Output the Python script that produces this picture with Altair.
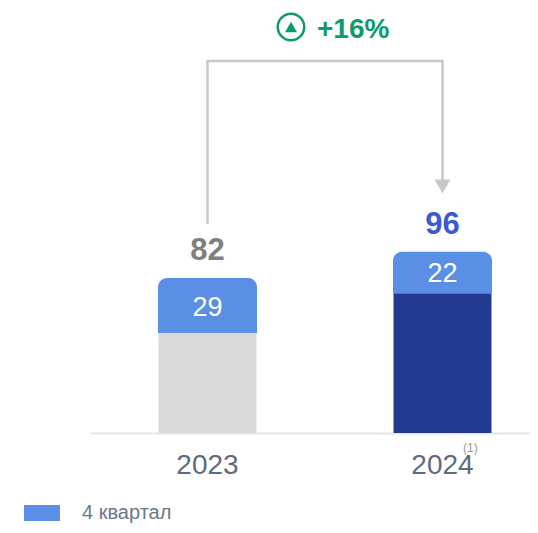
import altair as alt
import pandas as pd

years = ["2023", "2024"]
totals = [82, 96]
q4 = [29, 22]
base = [t - q for t, q in zip(totals, q4)]
base_colors = ["#d9d9d9", "#223a8f"]
total_colors = ["#808080", "#3a5bd0"]
series_name = "4 квартал"
growth = "+16%"
note = "(1)"
FONT = "Liberation Sans"
GREEN = "#0d9b6c"
LINE = "#c8c8c8"

conn_year = ["2023", "2023", "2024", "2024"]
conn_level = [110.6, 197, 197, 134]
conn_order = [0, 1, 2, 3]
arrow_level = [130.5]

df = pd.DataFrame({"year": years, "total": totals, "q4": q4, "base": base,
                   "bc": base_colors, "tc": total_colors, "series": series_name})
conn = pd.DataFrame({"year": conn_year, "level": conn_level, "o": conn_order})
arrow = pd.DataFrame({"year": ["2024"], "level": arrow_level})

xs = alt.Scale(domain=years, range=[82, 552], paddingInner=0.583, paddingOuter=0.2915)
ys = alt.Scale(domain=[0, 225], nice=False, zero=True)
X = alt.X("year:N", scale=xs, sort=years,
          axis=alt.Axis(title=None, ticks=False, labelAngle=0, labelFont=FONT, labelFontSize=28,
                        labelColor="#5c6b7e", labelPadding=18, domainColor="#e6e6e6", domainWidth=2,
                        grid=False))
XP = alt.X("year:N", scale=xs, sort=years, title=None)

bar_base = alt.Chart(df).mark_bar(size=98).encode(
    x=X,
    y=alt.Y("base:Q", scale=ys, axis=None),
    color=alt.Color("bc:N", scale=None, legend=None),
)
bar_q4 = alt.Chart(df).mark_bar(size=99, cornerRadiusTopLeft=9, cornerRadiusTopRight=9).encode(
    x=XP,
    y=alt.Y("base:Q", scale=ys, axis=None),
    y2="total:Q",
    color=alt.Color("series:N",
                    scale=alt.Scale(domain=[series_name], range=["#5b8fe6"]),
                    legend=alt.Legend(title=None, orient="none", legendX=16, legendY=487,
                                      symbolType="M-1,-0.44L1,-0.44L1,0.44L-1,0.44Z", symbolSize=1296,
                                      symbolStrokeWidth=0, symbolOpacity=1,
                                      labelFont=FONT, labelFontSize=20, labelColor="#6b7785",
                                      labelOffset=22)),
)
q4_text = alt.Chart(df).transform_calculate(mid="datum.base + datum.q4 / 2").mark_text(
    font=FONT, fontSize=27, color="white", baseline="middle", dy=2
).encode(x=XP, y=alt.Y("mid:Q", scale=ys, axis=None), text="q4:Q")
total_text = alt.Chart(df).mark_text(
    font=FONT, fontSize=31, fontWeight="bold", baseline="alphabetic", dy=-18
).encode(x=XP, y=alt.Y("total:Q", scale=ys, axis=None), text="total:Q",
         color=alt.Color("tc:N", scale=None, legend=None))
line = alt.Chart(conn).mark_line(color=LINE, strokeWidth=2.5, strokeJoin="miter", strokeCap="butt").encode(
    x=XP, y=alt.Y("level:Q", scale=ys, axis=None), order="o:Q")
arrow_mark = alt.Chart(arrow).mark_point(shape="triangle-down", size=256, filled=True, color=LINE, opacity=1).encode(
    x=XP, y=alt.Y("level:Q", scale=ys, axis=None))
ring = alt.Chart(pd.DataFrame({"a": [1]})).mark_point(
    shape="circle", size=700, filled=False, color=GREEN, strokeWidth=2.5, opacity=1
).encode(x=alt.value(283), y=alt.value(19))
tri = alt.Chart(pd.DataFrame({"a": [1]})).mark_point(
    shape="triangle-up", size=144, filled=True, color=GREEN, opacity=1
).encode(x=alt.value(283), y=alt.value(19))
growth_text = alt.Chart(pd.DataFrame({"t": [growth]})).mark_text(
    font=FONT, fontSize=28, fontWeight="bold", color=GREEN, align="left", baseline="alphabetic"
).encode(x=alt.value(309), y=alt.value(30), text="t:N")
note_text = alt.Chart(pd.DataFrame({"t": [note]})).mark_text(
    font=FONT, fontSize=12, color="#9a9a9a", align="left", baseline="alphabetic"
).encode(x=alt.value(455), y=alt.value(444), text="t:N")

chart = alt.layer(bar_base, bar_q4, q4_text, total_text, line, arrow_mark, ring, tri, growth_text, note_text).resolve_scale(
    color="independent"
).properties(
    width=522, height=425,
    autosize=alt.AutoSizeParams(type="none"),
    padding={"left": 0, "top": 0, "right": 0, "bottom": 92},
).configure_view(stroke=None)

chart.save("out.html", embed_options={"renderer": "svg", "actions": False})
